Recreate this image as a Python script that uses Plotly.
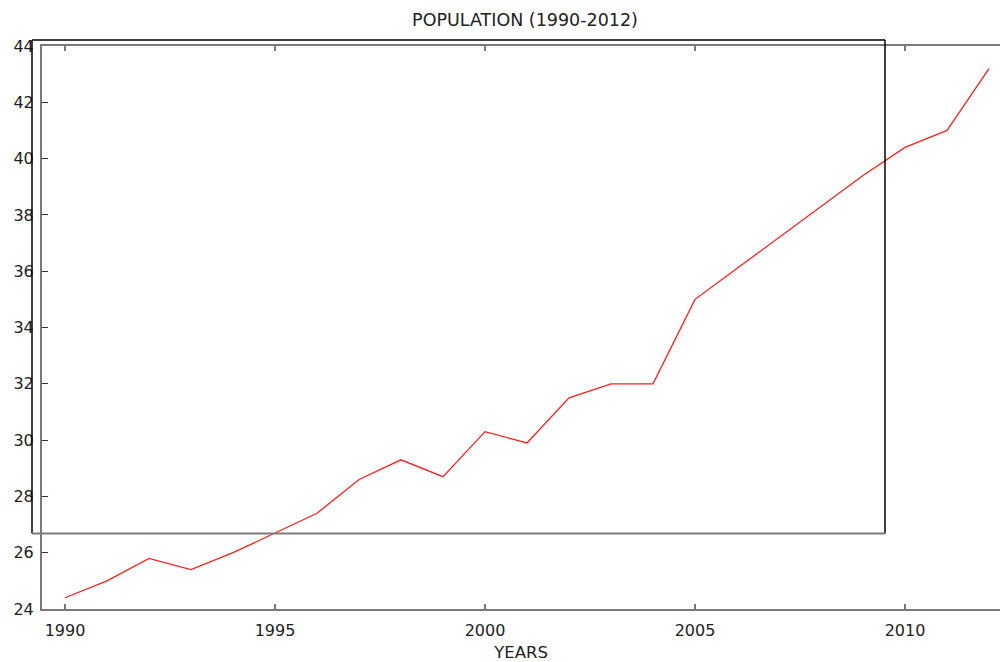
import plotly.graph_objects as go

# Population (millions) by year
years = list(range(1990, 2013))
population = [24.4, 25.0, 25.8, 25.4, 26.0, 26.7, 27.4, 28.6, 29.3, 28.7,
              30.3, 29.9, 31.5, 32.0, 32.0, 35.0, 36.1, 37.2, 38.3, 39.4,
              40.4, 41.0, 43.2]

x_ticks = [1990, 1995, 2000, 2005, 2010]
y_ticks = list(range(24, 45, 2))

W, H = 1000, 662
ML, MR, MT, MB = 42, 0, 46, 53
PW, PH = W - ML - MR, H - MT - MB

AXIS_GREY = "#7a7a7a"
FONT = "DejaVu Sans"

fig = go.Figure()
fig.add_trace(go.Scatter(
    x=years, y=population, mode="lines",
    line=dict(color="#ff2020", width=1.3),
    showlegend=False, hoverinfo="x+y",
))


def px_x(p):
    return (p - ML) / PW


def px_y(p):
    return (H - MB - p) / PH


# framed box drawn over the plot area
box_l, box_r, box_t, box_b = 32, 885, 40, 533.5
fig.add_shape(type="line", xref="paper", yref="paper",
              x0=px_x(box_l), x1=px_x(box_l), y0=px_y(box_b), y1=px_y(box_t),
              line=dict(color="black", width=1.5))
fig.add_shape(type="line", xref="paper", yref="paper",
              x0=px_x(box_r), x1=px_x(box_r), y0=px_y(box_b), y1=px_y(box_t),
              line=dict(color="black", width=1.5))
fig.add_shape(type="line", xref="paper", yref="paper",
              x0=px_x(box_l), x1=px_x(box_r), y0=px_y(box_t), y1=px_y(box_t),
              line=dict(color="black", width=1.5))
fig.add_shape(type="line", xref="paper", yref="paper",
              x0=px_x(box_l), x1=px_x(box_r), y0=px_y(box_b), y1=px_y(box_b),
              line=dict(color=AXIS_GREY, width=2))

fig.update_layout(
    width=W, height=H,
    margin=dict(l=ML, r=MR, t=MT, b=MB),
    paper_bgcolor="white", plot_bgcolor="white",
    font=dict(family=FONT, color="#222222"),
    title=dict(text="POPULATION (1990-2012)", x=525 / W,
               xanchor="center", y=1 - 20 / H, yanchor="middle",
               font=dict(size=17.5, family=FONT, color="#222222")),
    xaxis=dict(
        range=[1990 + (ML - 65) / 42, 1990 + (W - 65) / 42],
        tickvals=x_ticks, ticktext=[str(v) for v in x_ticks],
        ticks="inside", ticklen=5, tickwidth=1.5, tickcolor=AXIS_GREY,
        showline=True, linecolor=AXIS_GREY, linewidth=2, mirror="ticks",
        showgrid=False, zeroline=False,
        tickfont=dict(size=16, family=FONT, color="#222222"),
        ticklabelstandoff=6,
        title=dict(text="YEARS", font=dict(size=16.5, family=FONT, color="#222222"),
                   standoff=11),
    ),
    yaxis=dict(
        range=[24, 44],
        tickvals=y_ticks, ticktext=[str(v) for v in y_ticks],
        ticks="inside", ticklen=6, tickwidth=1.2, tickcolor="#333333",
        showline=True, linecolor=AXIS_GREY, linewidth=2, mirror=False,
        showgrid=False, zeroline=False,
        tickfont=dict(size=16, family=FONT, color="#222222"),
        ticklabelstandoff=3,
    ),
)

fig.write_html("out.html")
